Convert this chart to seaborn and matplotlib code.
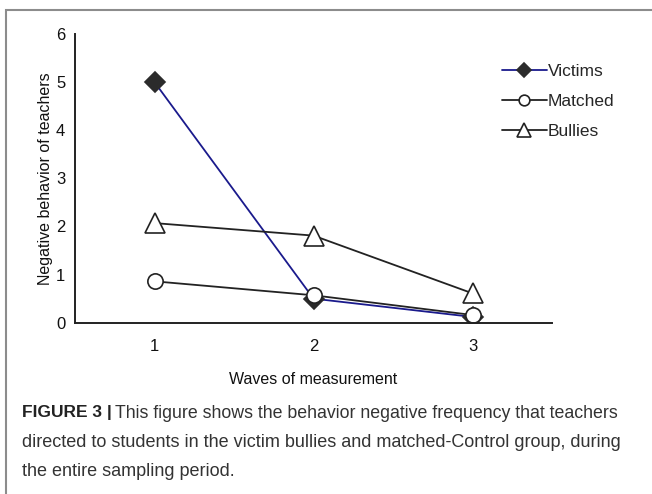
import matplotlib
matplotlib.use('Agg')
import matplotlib.pyplot as plt
import seaborn as sns
import pandas as pd
from matplotlib.patches import Rectangle

# data
waves = [1, 2, 3]
victims = [5.0, 0.5, 0.12]
matched = [0.86, 0.57, 0.16]
bullies = [2.07, 1.81, 0.61]
y_ticks = [0, 1, 2, 3, 4, 5, 6]

sns.set_style('white')
plt.rcParams['font.family'] = ['Liberation Sans', 'DejaVu Sans']

fig = plt.figure(figsize=(6.52, 4.94), dpi=100)
W, H = 652, 494
ax = fig.add_axes([75 / W, 1 - 322.7 / H, (552 - 75) / W, (322.7 - 34) / H])

df = pd.DataFrame({'wave': waves * 3,
                   'value': victims + matched + bullies,
                   'group': ['Victims'] * 3 + ['Matched'] * 3 + ['Bullies'] * 3})

ink = '#222222'
styles = {
    'Victims': dict(color='#1a1a8c', marker='D', markersize=10, markerfacecolor='#2b2b2b',
                    markeredgecolor='#2b2b2b'),
    'Matched': dict(color=ink, marker='o', markersize=11, markerfacecolor='white',
                    markeredgecolor=ink),
    'Bullies': dict(color=ink, marker='^', markersize=14, markerfacecolor='white',
                    markeredgecolor=ink),
}
for name in ['Victims', 'Matched', 'Bullies']:
    sub = df[df.group == name]
    sns.lineplot(data=sub, x='wave', y='value', ax=ax, label=name, linewidth=1.3,
                 markeredgewidth=1.2, **styles[name])

ax.set_xlim(0.5, 3.5)
ax.set_ylim(0, 6)
ax.set_yticks(y_ticks)
ax.set_yticklabels([str(t) for t in y_ticks], fontsize=12)
ax.set_xticks([0.5, 1.5, 2.5, 3.5])
ax.set_xticklabels([])
ax.set_xticks(waves, minor=True)
ax.set_xticklabels([str(w) for w in waves], minor=True, fontsize=12)
ax.tick_params(axis='x', which='major', direction='out', length=5, width=1.3, colors=ink)
ax.tick_params(axis='x', which='minor', length=0, pad=12, labelcolor='#111111')
ax.tick_params(axis='y', direction='out', length=5, width=1.3, colors=ink, labelcolor='#111111', pad=2)
for s in ['top', 'right']:
    ax.spines[s].set_visible(False)
for s in ['left', 'bottom']:
    ax.spines[s].set_color(ink)
    ax.spines[s].set_linewidth(1.4)

ax.set_xlabel('Waves of measurement', fontsize=11.5, labelpad=13, color='#111111')
ax.set_ylabel('Negative behavior of teachers', fontsize=11.5, labelpad=2, color='#111111')

ax.legend(frameon=False, loc='upper left', bbox_to_anchor=(0.862, 0.95), fontsize=12.5,
          handlelength=2.6, handletextpad=0.05, labelspacing=0.85, markerscale=0.7)

# frame around figure panel
fig.add_artist(Rectangle((6 / W, -0.05), 1.0, 1 - 10 / H + 0.05, transform=fig.transFigure,
                         fill=False, edgecolor='#8c8c8c', linewidth=1.5))

cap_font = ['Liberation Sans', 'DejaVu Sans']
cap_size = 13
bold = fig.text(22 / W, 1 - 413 / H, 'FIGURE 3 |', fontsize=12.5, fontweight='bold',
                color='#222222', va='center', family=cap_font)
fig.canvas.draw()
bb = bold.get_window_extent()
fig.text((bb.x1 + 3) / W, 1 - 413 / H,
         'This figure shows the behavior negative frequency that teachers',
         fontsize=12.8, color='#333333', va='center', family=cap_font)
fig.text(22 / W, 1 - 442 / H,
         'directed to students in the victim bullies and matched-Control group, during',
         fontsize=cap_size, color='#333333', va='center', family=cap_font)
fig.text(22 / W, 1 - 471 / H, 'the entire sampling period.',
         fontsize=cap_size, color='#333333', va='center', family=cap_font)

fig.savefig('out.png', dpi=100)
